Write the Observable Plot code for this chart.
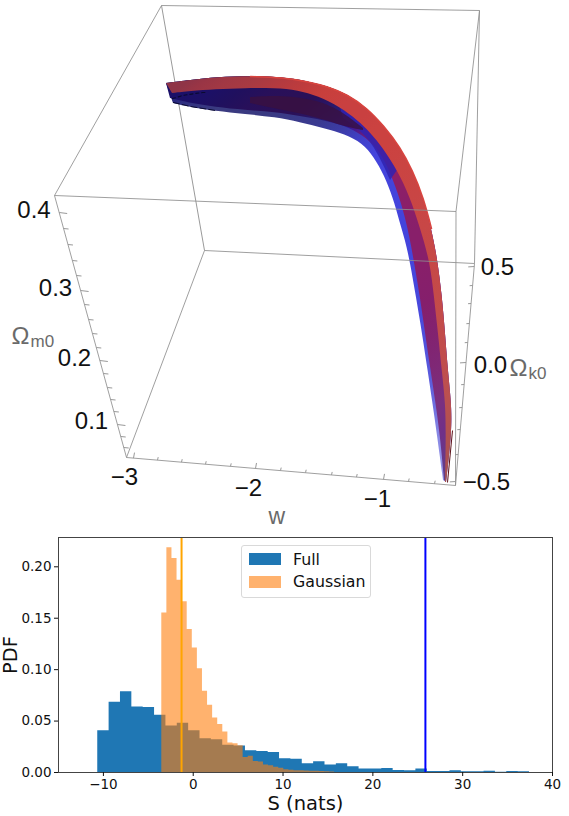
<!DOCTYPE html>
<html><head><meta charset="utf-8">
<script src="https://cdn.jsdelivr.net/npm/d3@7"></script>
<script src="https://cdn.jsdelivr.net/npm/@observablehq/plot@0.6"></script>
<style>
html,body{margin:0;padding:0;background:#fff;width:569px;height:816px;overflow:hidden}
#c{position:relative;width:569px;height:816px}
#c>svg{position:absolute;left:0;display:block;background:transparent}
#legend{position:absolute;left:241px;top:545px;width:128px;height:51px;border:1px solid #d9d9d9;border-radius:3px;background:rgba(255,255,255,.85);font:15.8px "DejaVu Sans",sans-serif;color:#111}
#legend div{position:absolute;left:7px;width:32px;height:12px}
#legend span{position:absolute;left:51px;line-height:18px}
</style></head><body><div id="c"></div>
<script>
// ---------- histogram values ----------
const fullStart=-10.63, fullWidth=1.265;
const fullPdf=[.0407,.0684,.0785,.0638,.0632,.0557,.0453,.0479,.0407,.0329,.0319,.0264,.0257,.0212,.0205,.0195,.0134,.013,.0085,.0104,.0072,.0085,.0055,.0033,.0033,.0039,.002,.0016,.0033,.001,.001,.0016,.0007,.0007,.0013,.0003,.001,.0007];
const gaussStart=-3.5, gaussWidth=.566;
const gaussPdf=[.155,.2186,.208,.187,.166,.139,.121,.101,.079,.0655,.053,.0466,.0394,.0288,.028,.026,.0147,.0157,.0108,.0101,.0072,.0065,.0052,.0042,.0026,.0022,.0018,.0016,.0014,.0012,.0012,.001,.0008,.0006];
const fullLine=[25.85], gaussLine=[-1.3];
const xTicks=[-10,0,10,20,30,40], yTicks=[0,.05,.1,.15,.2];

// ---------- 3D panel readings, in figure units ----------
const e0x=[166,190,217,250,283,307,327,347,367,383,400,412,423,431,437,442,445,448,451,452,446];
const e0y=[83,80,77,76,77,81,86,94,108,125,147,170,197,228,257,297,333,373,400,430,482];
const e1x=[172,190,215,245,275,298,318,340,357,370,383,397,410,420,430,434,438,442,445,446,445];
const e1y=[93,91,89,88,88,90,96,107,120,132,148,170,197,228,262,297,333,373,400,430,482];
const e2x=[170,190,215,245,275,300,323,343,363,377,388,398,405,410,414,420,425,431,435,440,444];
const e2y=[98,103,107,110,112,116,120,125,135,148,167,193,217,240,262,297,333,373,400,435,480];
const e3x=[173,190,215,245,275,300,323,345,362,374,384,393,399,405,410,416,422,428,432,437,443];
const e3y=[103,107,111,114,117,122,128,134,143,157,175,198,220,240,262,297,333,373,400,435,480];
const redFill=["#8f3447","#993545","#a13844","#a83a42","#b53a3f","#be3c3d","#c83f3c","#c94040","#c94040","#cb4240","#cb4240","#ca4442","#c94544","#c84746","#c64847","#c44a49","#c24c4b","#bf4e4e","#bb5050","#b35050","#a85050"];
const midFill=["#1b1068","#1b1068","#1c1066","#20105e","#28105a","#2a1058","#2a1058","#2a1a70","#30189a","#6a1c7c","#8e1f68","#8e1f68","#8b1f68","#881f6a","#881f6a","#851f6c","#822370","#7e2a78","#7a3080","#703088","#604088"];
const lowFill=["#22226f","#2a2a80","#333380","#3a3a80","#3a3a80","#3a3a82","#3a3a88","#3a3a90","#3c3ca8","#4040c8","#4444dc","#4444dc","#4444dc","#4444dc","#4646dc","#4848dc","#5050dc","#5c5cdc","#7070e0","#8888e4","#9898e8"];
const coreTopX=[250,283,317,340,363], coreTopY=[97,95,100,110,128];
const coreLowX=[250,283,317,350,363], coreLowY=[103,110,117,128,130];
const ridgeTopX=[340,357,370,383,397], ridgeTopY=[107,120,132,148,170];
const ridgeLowX=[343,358,371,381,390], ridgeLowY=[118,128,142,160,180];
const loopX=[172,176,182,188,195,202,207], loopY=[98,97,95,94,93,92,92];
const boxBack=[[161,5,204,250]];
const boxEdges=[[54,195,161,5],[161,5,479,10],[479,10,455.5,211],[479,10,474,263],[54,195,455.5,211],[204,250,474,263],[204,250,126,457],[54,195,126,457],[126,457,455,485],[474,263,455,485],[455.5,211,455,485]];
const mTickY=[212,228,244,260,275,290,304,319,333,347,360,373,387,399,411,424,436,447];
const mMajor=[212,290,360,424];
const wTickX=[133,157,181,205,230,255,280,305,331,356,383,408,434];
const wMajor=[133,255,383];
const kTickY=[266,285,303,323,342,362,384,407,429,454,481];
const kMajor=[266,362,481];
const tickLabels=["0.4","0.3","0.2","0.1","\u22123","\u22122","\u22121","0.5","0.0","\u22120.5"];
const tickLabelX=[33.5,55,74,91,124,248,377,497,490,486];
const tickLabelY=[210,288,358,421,477,488,499,267,365,482];
const axisNames=["\u03A9","m0","w","\u03A9","k0"];
const axisNameX=[11,30,268,509,528];
const axisNameY=[336,341,516,368,373];
const axisNameSize=[24,17,23,24,17];

// ---------- tables ----------
const table=(ax,ay,bx,by)=>ax.map((x,j)=>({x1:x,y1:ay[j],x2:bx[j],y2:by[j]}));
const alongLeft=y=>54+(y-195)*(126-54)/(457-195);
const alongBottom=x=>457+(x-126)*(485-457)/(455-126);
const alongRight=y=>474+(y-263)*(455-474)/(485-263);
const mTicks=mTickY.map(y=>{const m=mMajor.includes(y),x=alongLeft(y);return [x,y,x+(m?8:5),y+(m?1:.5)]});
const wTicks=wTickX.map(x=>{const m=wMajor.includes(x),y=alongBottom(x);return [x,y,x+(m?1:.7),y-(m?5.5:3)]});
const kTicks=kTickY.map(y=>{const m=kMajor.includes(y),x=alongRight(y);return [x,y,x-(m?6:3),y+(m?.4:.2)]});
const link=(rows,o)=>Plot.link(rows,{x1:d=>d[0],y1:d=>d[1],x2:d=>d[2],y2:d=>d[3],...o});
const band=(rows,fill,o={})=>Plot.area(rows,{x1:"x1",y1:"y1",x2:"x2",y2:"y2",fill,curve:"basis",...o});

// colour ramps along the ribbon
const gx0=e1x[0],gy0=e1y[0],gx1=e1x[20],gy1=e1y[20];
const proj=(x,y)=>((x-gx0)*(gx1-gx0)+(y-gy0)*(gy1-gy0))/((gx1-gx0)**2+(gy1-gy0)**2);
const ramp=(id,xs,ys,cols)=>()=>{
  const g=d3.create("svg:linearGradient").attr("id",id).attr("gradientUnits","userSpaceOnUse")
    .attr("x1",gx0).attr("y1",gy0).attr("x2",gx1).attr("y2",gy1);
  cols.forEach((c,i)=>g.append("stop").attr("offset",Math.max(0,Math.min(1,proj(xs[i],ys[i])))).attr("stop-color",c));
  return g.node();
};

const top3d=Plot.plot({
  width:569,height:540,margin:0,
  x:{domain:[0,569],range:[0,569],axis:null},
  y:{domain:[0,540],range:[0,540],axis:null},
  marks:[
    ramp("gRed",e1x,e1y,redFill),ramp("gMid",e1x,e1y,midFill),ramp("gLow",e1x,e1y,lowFill),
    link(boxBack,{stroke:"#9a9a9a",strokeWidth:1}),
    band(table(e0x,e0y,e3x,e3y),"url(#gLow)"),
    band(table(e0x,e0y,e2x,e2y),"url(#gMid)"),
    band(table(ridgeTopX,ridgeTopY,ridgeLowX,ridgeLowY),"#3022b0",{fillOpacity:.85}),
    band(table(coreTopX,coreTopY,coreLowX,coreLowY),"#3a1040",{fillOpacity:.8}),
    band(table(e0x,e0y,e1x,e1y),"url(#gRed)"),
    Plot.line(e0x.slice(3,14).map((x,i)=>({x,y:e0y[i+3]})),{x:"x",y:"y",curve:"basis",stroke:"#d9453f",strokeWidth:1.5}),
    Plot.line(loopX.map((x,i)=>({x,y:loopY[i]})),{x:"x",y:"y",stroke:"#0a0a30",strokeWidth:1.2,strokeDasharray:"3 3"}),
    Plot.line([0,1,2].map(i=>({x:e3x[i],y:e3y[i]-1})),{x:"x",y:"y",stroke:"#0a0a30",strokeWidth:1,strokeDasharray:"6 3"}),
    link([[e0x[20]+1,e0y[20],e0x[19],e0y[19]]],{stroke:"#5a1018",strokeWidth:1}),
    link(boxEdges,{stroke:"#8e8e8e",strokeWidth:1,strokeOpacity:.85}),
    link(mTicks,{stroke:"#999",strokeWidth:1}),
    link(wTicks,{stroke:"#999",strokeWidth:1}),
    link(kTicks,{stroke:"#999",strokeWidth:1}),
    Plot.text(tickLabels,{x:(d,i)=>tickLabelX[i],y:(d,i)=>tickLabelY[i],text:d=>d,textAnchor:"middle",fontSize:24,fontFamily:"Liberation Sans",fill:"#111"}),
    Plot.text(axisNames,{x:(d,i)=>axisNameX[i],y:(d,i)=>axisNameY[i],text:d=>d,textAnchor:"start",fontSize:(d,i)=>axisNameSize[i],fontFamily:"Liberation Sans",fill:"#6a6a6a"})
  ]
});
top3d.style.top="0";
document.getElementById("c").append(top3d);

const steps=(start,width,vals)=>[...vals,vals[vals.length-1]].map((v,i)=>({a:start+i*width,v}));
const minus=d=>String(d).replace("-","\u2212");
const hist=Plot.plot({
  width:569,height:291,marginLeft:58,marginRight:17,marginTop:12,marginBottom:44,
  style:{fontFamily:"DejaVu Sans"},
  x:{domain:[-15,40],axis:null},
  y:{domain:[0,.2285],axis:null},
  marks:[
    Plot.areaY(steps(fullStart,fullWidth,fullPdf),{x:"a",y:"v",curve:"step-after",fill:"#1f77b4"}),
    Plot.areaY(steps(gaussStart,gaussWidth,gaussPdf),{x:"a",y:"v",curve:"step-after",fill:"#ff7f0e",fillOpacity:.6}),
    Plot.ruleX(fullLine,{stroke:"blue",strokeWidth:2}),
    Plot.ruleX(gaussLine,{stroke:"orange",strokeWidth:2}),
    Plot.frame({stroke:"#444",strokeWidth:1}),
    Plot.axisX({ticks:xTicks,tickFormat:minus,tickSize:4,tickPadding:3,fontSize:13.5,label:null,stroke:"#111",color:"#111"}),
    Plot.axisY({ticks:yTicks,tickFormat:d3.format(".2f"),tickSize:4,tickPadding:3,fontSize:13.5,label:null,stroke:"#111",color:"#111"}),
    Plot.text(["S (nats)"],{frameAnchor:"bottom",dy:37,fontSize:19.5,fontFamily:"DejaVu Sans",fill:"#111"}),
    Plot.text(["PDF"],{frameAnchor:"left",textAnchor:"middle",dx:-48,rotate:-90,fontSize:19.5,fontFamily:"DejaVu Sans",fill:"#111"})
  ]
});
hist.style.top="525px";
document.getElementById("c").append(hist);

const legend=document.createElement("div");
legend.id="legend";
legend.innerHTML='<div style="top:7px;background:#1f77b4"></div><span style="top:5px">Full</span><div style="top:30px;background:#ff7f0e;opacity:.6"></div><span style="top:27px">Gaussian</span>';
document.getElementById("c").append(legend);
</script></body></html>
